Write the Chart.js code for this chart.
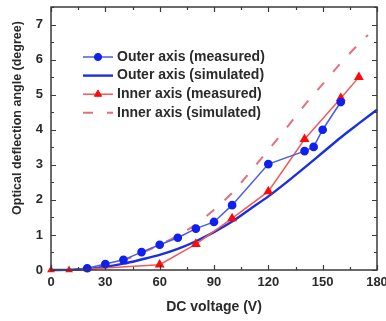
<!DOCTYPE html>
<html>
<head>
<meta charset="utf-8">
<script src="https://cdn.jsdelivr.net/npm/chart.js@4/dist/chart.umd.min.js"></script>
<style>
  html, body { margin: 0; padding: 0; background: #fff; }
  #wrap { width: 386px; height: 321px; }
</style>
</head>
<body>
<div id="wrap"><canvas id="c" width="386" height="321"></canvas></div>
<script>
// Deflection angle vs. DC voltage
const voltsOuterMeas = [0, 10, 20, 30, 40, 50, 60, 70, 80, 90, 100, 120, 140, 145, 150, 160];
const outerMeas      = [0, 0.01, 0.05, 0.17, 0.29, 0.51, 0.72, 0.92, 1.18, 1.37, 1.85, 3.02, 3.39, 3.51, 4.0, 4.79];

const voltsSim = [0, 10, 20, 30, 40, 50, 60, 70, 80, 90, 100, 110, 120, 130, 140, 150, 160, 170, 180];
const outerSim = [0, 0.005, 0.03, 0.09, 0.18, 0.3, 0.43, 0.6, 0.82, 1.08, 1.38, 1.74, 2.1, 2.5, 2.92, 3.35, 3.78, 4.18, 4.57];

const voltsInnerMeas = [0, 10, 20, 60, 80, 100, 120, 140, 160, 170];
const innerMeas      = [0, 0, 0.03, 0.15, 0.74, 1.47, 2.24, 3.73, 4.9, 5.5];

const voltsInnerSim = [0, 10, 20, 30, 40, 50, 60, 70, 80, 90, 100, 110, 120, 130, 140, 150, 160, 170, 175];
const innerSim      = [0, 0.01, 0.05, 0.14, 0.28, 0.48, 0.72, 0.98, 1.3, 1.72, 2.2, 2.8, 3.42, 4.05, 4.7, 5.3, 5.9, 6.45, 6.7];

const xTicks = [0, 30, 60, 90, 120, 150, 180];
const yTicks = [0, 1, 2, 3, 4, 5, 6, 7];

const seriesNames = [
  'Outer axis (measured)',
  'Outer axis (simulated)',
  'Inner axis (measured)',
  'Inner axis (simulated)'
];

const toPoints = (xs, ys) => xs.map((x, i) => ({ x: x, y: ys[i] }));

const FONT = '"Liberation Sans", Arial, Helvetica, sans-serif';
const INK = '#2a2a2a';

// Box frame with inward major/minor ticks on all four sides
const framePlugin = {
  id: 'frame',
  afterDatasetsDraw(chart) {
    const { ctx, chartArea: a, scales } = chart;
    ctx.save();
    ctx.strokeStyle = '#3a3a3a';
    ctx.lineWidth = 1.5;
    ctx.strokeRect(a.left, a.top, a.right - a.left, a.bottom - a.top);
    ctx.lineWidth = 1.2;
    ctx.beginPath();
    for (let v = 0; v <= 180; v += 15) {
      const px = Math.round(scales.x.getPixelForValue(v)) + 0.5;
      const len = v % 30 === 0 ? 5 : 3;
      ctx.moveTo(px, a.bottom); ctx.lineTo(px, a.bottom - len);
      ctx.moveTo(px, a.top); ctx.lineTo(px, a.top + len);
    }
    for (let v = 0; v <= 7.5; v += 0.5) {
      const py = Math.round(scales.y.getPixelForValue(v)) + 0.5;
      const len = Number.isInteger(v) ? 5 : 3;
      ctx.moveTo(a.left, py); ctx.lineTo(a.left + len, py);
      ctx.moveTo(a.right, py); ctx.lineTo(a.right - len, py);
    }
    ctx.stroke();
    ctx.restore();
  }
};

// Legend drawn inside the plot area
const legendPlugin = {
  id: 'innerLegend',
  afterDatasetsDraw(chart) {
    const { ctx } = chart;
    const x0 = 83, x1 = 113, tx = 117, y0 = 57, dy = 18.6;
    ctx.save();
    chart.data.datasets.forEach((ds, i) => {
      const y = y0 + i * dy;
      ctx.strokeStyle = ds.borderColor;
      ctx.lineWidth = ds.borderWidth;
      ctx.setLineDash(ds.borderDash || []);
      ctx.beginPath();
      ctx.moveTo(x0, y); ctx.lineTo(x1, y);
      ctx.stroke();
      ctx.setLineDash([]);
      if (ds.legendMarker) {
        ctx.fillStyle = ds.pointBackgroundColor;
        ctx.strokeStyle = ds.pointBorderColor;
        ctx.lineWidth = 1;
        Chart.helpers.drawPoint(ctx, { pointStyle: ds.pointStyle, radius: ds.legendMarker, rotation: 0, borderWidth: 1 }, (x0 + x1) / 2, y);
      }
      ctx.fillStyle = INK;
      ctx.font = 'bold 14px ' + FONT;
      ctx.textBaseline = 'middle';
      ctx.textAlign = 'left';
      ctx.fillText(ds.label, tx, y);
    });
    ctx.restore();
  }
};

// Vertical axis title
const yTitlePlugin = {
  id: 'yTitle',
  afterDraw(chart) {
    const { ctx } = chart;
    ctx.save();
    ctx.translate(18, 118);
    ctx.rotate(-Math.PI / 2);
    ctx.fillStyle = INK;
    ctx.font = 'bold 12.5px ' + FONT;
    ctx.textAlign = 'center';
    ctx.textBaseline = 'middle';
    ctx.fillText('Optical deflection angle (degree)', 0, 0);
    ctx.restore();
  }
};

new Chart(document.getElementById('c'), {
  type: 'line',
  data: {
    datasets: [
      {
        label: seriesNames[0],
        data: toPoints(voltsOuterMeas, outerMeas),
        borderColor: '#4a5be6',
        borderWidth: 1.5,
        pointStyle: 'circle',
        // near-zero readings sit under the inner-axis markers
        pointRadius: c => (c.raw && c.raw.x < 20 ? 0 : 3.6),
        legendMarker: 3.6,
        pointBackgroundColor: '#1020f0',
        pointBorderColor: '#1020f0',
        tension: 0,
        order: 1
      },
      {
        label: seriesNames[1],
        data: toPoints(voltsSim, outerSim),
        borderColor: '#1a2fe0',
        borderWidth: 2.4,
        pointRadius: 0,
        cubicInterpolationMode: 'monotone',
        order: 3
      },
      {
        label: seriesNames[2],
        data: toPoints(voltsInnerMeas, innerMeas),
        borderColor: '#f05a5a',
        borderWidth: 1.5,
        pointStyle: 'triangle',
        pointRadius: c => (c.raw && c.raw.x <= 20 ? 3 : 4.2),
        legendMarker: 4.2,
        pointBackgroundColor: '#ff0a0a',
        pointBorderColor: '#ff0a0a',
        tension: 0,
        order: 2
      },
      {
        label: seriesNames[3],
        data: toPoints(voltsInnerSim, innerSim),
        borderColor: '#e3707c',
        borderWidth: 2,
        borderDash: [10, 14],
        pointRadius: 0,
        cubicInterpolationMode: 'monotone',
        order: 4
      }
    ]
  },
  options: {
    responsive: false,
    animation: false,
    devicePixelRatio: 1,
    clip: false,
    layout: { padding: { top: 7, right: 9, left: 0, bottom: 0 } },
    plugins: {
      legend: { display: false },
      tooltip: { enabled: false }
    },
    scales: {
      x: {
        type: 'linear',
        min: 0, max: 180,
        afterFit: s => { s.height = 51; s.paddingLeft = 0; s.paddingRight = 0; },
        afterBuildTicks: s => { s.ticks = xTicks.map(v => ({ value: v })); },
        grid: { display: false, drawTicks: false },
        border: { display: false },
        ticks: {
          padding: 5,
          color: INK,
          font: { family: FONT, size: 13, weight: 'bold' },
          maxRotation: 0
        },
        title: {
          display: true,
          text: 'DC voltage (V)',
          color: INK,
          font: { family: FONT, size: 14, weight: 'bold' },
          padding: { top: 0, bottom: 5 }
        }
      },
      y: {
        type: 'linear',
        min: 0, max: 7.5,
        afterFit: s => { s.width = 51; s.paddingTop = 0; s.paddingBottom = 0; },
        afterBuildTicks: s => { s.ticks = yTicks.map(v => ({ value: v })); },
        grid: { display: false, drawTicks: false },
        border: { display: false },
        ticks: {
          padding: 8,
          color: INK,
          font: { family: FONT, size: 13, weight: 'bold' }
        }
      }
    }
  },
  plugins: [framePlugin, legendPlugin, yTitlePlugin]
});
</script>
</body>
</html>
